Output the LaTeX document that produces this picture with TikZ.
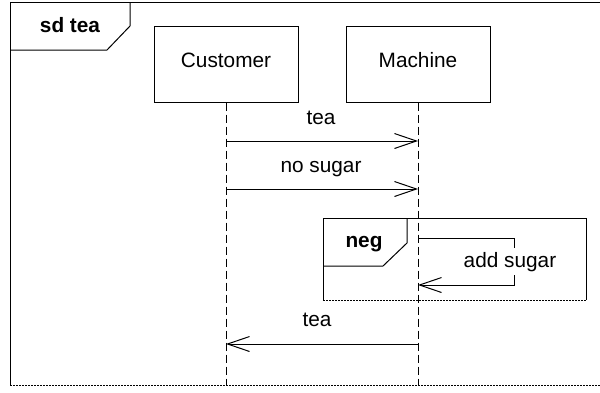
\documentclass[tikz,border=0pt]{standalone}
\usepackage{fontspec}
\setmainfont{Liberation Sans}
\usetikzlibrary{arrows.meta}
\begin{document}
\begin{tikzpicture}[x=1pt,y=-1pt,line width=1pt,
  txt/.style={font=\fontsize{20.8}{24}\selectfont,inner sep=0pt},
  bold/.style={font=\fontsize{20.8}{24}\selectfont\bfseries,inner sep=0pt},
  lifebox/.style={draw,txt,minimum width=144pt,minimum height=76pt,text height=15pt,text depth=9pt},
  lifeline/.style={dash pattern=on 8pt off 4pt},
  msg/.style={-{Straight Barb[length=22pt,width=15pt,line width=1pt]}},
  dotline/.style={dash pattern=on 2pt off 1pt}]
\useasboundingbox (0,0) rectangle (600,392);
% outer frame
\draw (10,385) -- (10,2) -- (610,2);
\draw[dotline] (10,385) -- (610,385);
\draw (10,50) -- (107,50) -- (130,26) -- (130,2);
\node[bold,anchor=base] (sd) at (70,32) {sd tea};
% lifelines
\node[lifebox] (cust) at (226,64) {Customer};
\node[lifebox] (mach) at (418,64) {Machine};
\coordinate (cend) at (226,385);
\coordinate (mend) at (418,385);
\draw[lifeline] (cust.south) -- (cend);
\draw[lifeline] (mach.south) -- (mend);
% messages
\coordinate (c1) at (226,141);
\coordinate (m1) at (418,141);
\draw[msg] (c1) -- (m1);
\node[txt,anchor=base] (l1) at (321,124) {tea};
\coordinate (c2) at (226,189);
\coordinate (m2) at (418,189);
\draw[msg] (c2) -- (m2);
\node[txt,anchor=base] (l2) at (321,172) {no sugar};
% neg fragment
\draw (323,300) -- (323,218) -- (586,218) -- (586,300);
\draw[dotline] (323,300) -- (586,300);
\draw (323,266) -- (383,266) -- (407,243) -- (407,218);
\node[bold,anchor=base] (neg) at (364,247) {neg};
\coordinate (s1) at (418,238);
\coordinate (s2) at (418,285);
\coordinate (sa) at (514,238);
\coordinate (sb) at (514,285);
\draw[msg] (s1) -- (sa) -- (sb) -- (s2);
\node[txt,anchor=base,fill=white,inner ysep=4pt,inner xsep=1pt] (l3) at (510,267) {add sugar};
% return
\coordinate (m3) at (418,344);
\coordinate (c3) at (226,344);
\draw[msg] (m3) -- (c3);
\node[txt,anchor=base] (l4) at (317,326) {tea};
\end{tikzpicture}
\end{document}
